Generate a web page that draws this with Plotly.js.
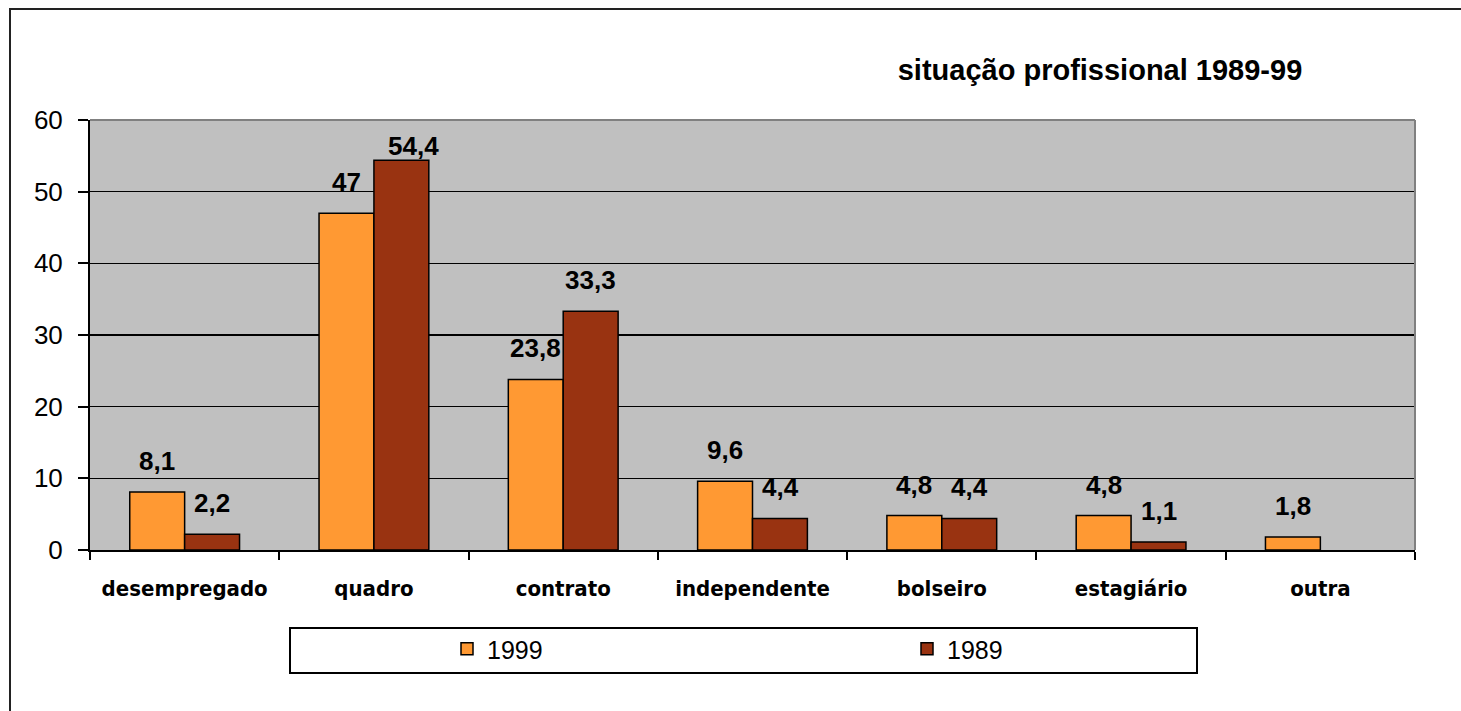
<!DOCTYPE html>
<html>
<head>
<meta charset="utf-8">
<script src="https://cdn.plot.ly/plotly-3.0.1.min.js"></script>
<style>html,body{margin:0;padding:0;background:#fff;}#chart{width:1461px;height:711px;}</style>
</head>
<body>
<div id="chart"></div>
<script>
const categories = ["desempregado", "quadro", "contrato", "independente", "bolseiro", "estagiário", "outra"];
const values1999 = [8.1, 47, 23.8, 9.6, 4.8, 4.8, 1.8];
const values1989 = [2.2, 54.4, 33.3, 4.4, 4.4, 1.1, null];
const seriesNames = ["1999", "1989"];
const titleText = "situação profissional 1989-99";
const yTicks = [0, 10, 20, 30, 40, 50, 60];

const W = 1461, H = 711;
const m = {l: 90, r: 46, t: 120, b: 161};
const pw = W - m.l - m.r, ph = H - m.t - m.b;
const px = x => (x - m.l) / pw;
const py = y => (H - m.b - y) / ph;

const colors = ["#FF9933", "#993311"];
const fmt = v => String(v).replace('.', ',');

const traces = [values1999, values1989].map((vals, i) => ({
  type: 'bar',
  name: seriesNames[i],
  x: categories,
  y: vals,
  marker: {color: colors[i], line: {color: '#000000', width: 1.5}},
  hoverinfo: 'skip'
}));

const annotations = [];
[values1999, values1989].forEach((vals, i) => {
  vals.forEach((v, j) => {
    if (v === null) return;
    annotations.push({
      x: categories[j], y: v, xref: 'x', yref: 'y',
      text: fmt(v), showarrow: false,
      xshift: (i === 0 ? -1 : 1) * 27.5 + (v > 50 ? 12 : 0),
      yshift: v > 50 ? 14 : 31,
      yanchor: 'middle',
      font: {family: 'Liberation Sans, Arial, sans-serif', size: 26, color: '#000', weight: 'bold'}
    });
  });
});

const layout = {
  width: W, height: H,
  margin: m,
  paper_bgcolor: '#ffffff',
  plot_bgcolor: '#c0c0c0',
  title: {
    text: '<b>' + titleText + '</b>',
    x: px(1100), xanchor: 'center', xref: 'paper',
    y: 1 - 70 / H, yanchor: 'middle',
    font: {family: 'Liberation Sans, Arial, sans-serif', size: 29, color: '#000'}
  },
  barmode: 'group',
  bargap: 0.42,
  bargroupgap: 0,
  showlegend: true,
  legend: {
    orientation: 'h',
    x: px(447), xanchor: 'left',
    y: py(649), yanchor: 'middle',
    entrywidth: 415, entrywidthmode: 'pixels',
    bgcolor: 'rgba(0,0,0,0)', borderwidth: 0,
    font: {family: 'Liberation Sans, Arial, sans-serif', size: 25, color: '#000'},
    traceorder: 'normal'
  },
  xaxis: {
    type: 'category',
    tickson: 'boundaries',
    ticks: 'outside', ticklen: 8, tickwidth: 2, tickcolor: '#000',
    showline: true, linecolor: '#000', linewidth: 2,
    showgrid: false,
    tickfont: {family: 'DejaVu Sans Condensed, Liberation Sans Narrow, sans-serif', size: 22, color: '#000', weight: 'bold'},
    ticklabelstandoff: 18,
    fixedrange: true
  },
  yaxis: {
    range: [0, 60],
    tickvals: yTicks,
    ticks: 'outside', ticklen: 10, tickwidth: 2, tickcolor: '#000',
    showline: true, linecolor: '#000', linewidth: 2,
    showgrid: true, gridcolor: '#000', gridwidth: 1.5,
    zeroline: false,
    tickfont: {family: 'Liberation Sans, Arial, sans-serif', size: 26, color: '#000'},
    ticklabelstandoff: 10,
    fixedrange: true
  },
  shapes: [
    {type: 'line', xref: 'paper', yref: 'paper', x0: 0, x1: 1, y0: 1, y1: 1, line: {color: '#808080', width: 2}},
    {type: 'line', xref: 'paper', yref: 'paper', x0: 1, x1: 1, y0: 0, y1: 1, line: {color: '#808080', width: 2}},
    {type: 'rect', xref: 'paper', yref: 'paper', x0: px(290), x1: px(1197), y0: py(673), y1: py(628), line: {color: '#000', width: 2}, fillcolor: 'rgba(0,0,0,0)'},
    {type: 'rect', xref: 'paper', yref: 'paper', x0: px(10), x1: px(1475), y0: py(725), y1: py(9), line: {color: '#222', width: 2}, fillcolor: 'rgba(0,0,0,0)'}
  ],
  annotations: annotations
};

Plotly.newPlot('chart', traces, layout, {displayModeBar: false, staticPlot: true});
</script>
</body>
</html>
